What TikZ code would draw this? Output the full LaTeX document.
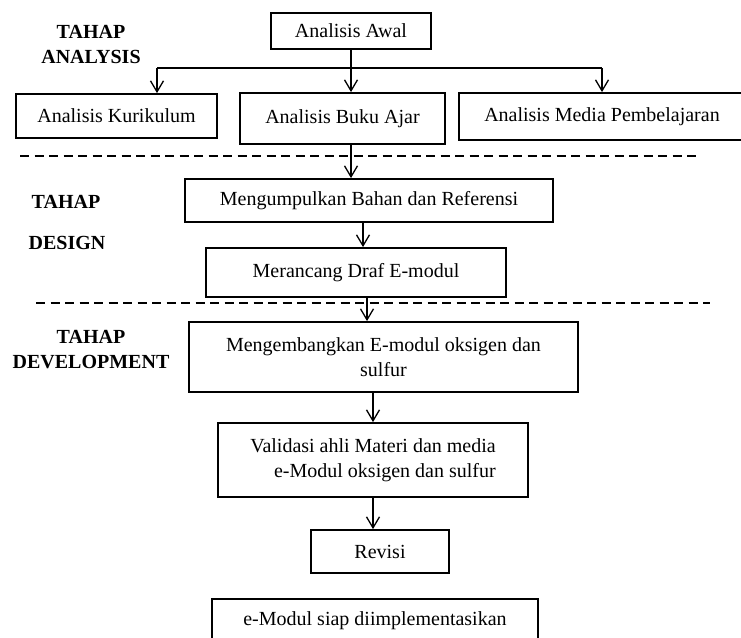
\documentclass[tikz,border=0pt]{standalone}
\usepackage{fontspec}
\setmainfont{Liberation Serif}
\usetikzlibrary{arrows.meta}
\tikzset{
  mybox/.style={
    draw, rectangle, line width=1.8pt, inner sep=0pt, font=\fontsize{20}{25}\selectfont
  },
  mylabel/.style={
    inner sep=0pt, align=center, font=\fontsize{20}{25}\selectfont\bfseries
  },
  myarrow/.style={
    -{Straight Barb[length=11pt,width=13pt]}, line width=1.3pt
  },
  mydash/.style={
    dash pattern=on 9pt off 5.5pt, line width=1.4pt
  }
}
\begin{document}
\begin{tikzpicture}[x=1pt, y=1pt]
 \useasboundingbox (0, 0) rectangle (741, -637);

 % tahap labels
 \node[mylabel] (lanalysis) at (91, -44) {TAHAP\\ANALYSIS};
 \node[mylabel] (ltahap) at (66, -202) {TAHAP};
 \node[mylabel] (ldesign) at (67, -243) {DESIGN};
 \node[mylabel] (ldevelop) at (91, -349.5) {TAHAP\\DEVELOPMENT};

 % boxes
 \node[mybox, minimum width=160pt, minimum height=36pt] (awal) at (351, -31) {Analisis Awal};
 \node[mybox, minimum width=201pt, minimum height=44pt] (kurikulum) at (116.5, -116) {Analisis Kurikulum};
 \node[mybox, minimum width=205pt, minimum height=51pt] (buku) at (342.5, -118.5) {Analisis Buku Ajar};
 \node[mybox, minimum width=286pt, minimum height=47pt] (media) at (602, -116.5) {Analisis Media Pembelajaran};
 \node[mybox, minimum width=368pt, minimum height=43pt] (kumpul) at (369, -200.5) {Mengumpulkan Bahan dan Referensi};
 \node[mybox, minimum width=300pt, minimum height=49pt] (rancang) at (356, -272.5) {Merancang Draf E-modul};
 \node[mybox, minimum width=389pt, minimum height=70pt, align=center] (kembang) at (383.5, -357) {Mengembangkan E-modul oksigen dan\\sulfur};
 \node[mybox, minimum width=310pt, minimum height=74pt, align=right] (validasi) at (373, -460) {Validasi ahli Materi dan media\\e-Modul oksigen dan sulfur};
 \node[mybox, minimum width=138pt, minimum height=43pt] (revisi) at (380, -551.5) {Revisi};
 \node[mybox, minimum width=326pt, minimum height=43pt] (siap) at (375, -620.5) {e-Modul siap diimplementasikan};

 \foreach \y/\a/\b in {-156/20/698, -303/36/710} {
   \draw[mydash] (\a, \y) -- (\b, \y);
  }

 \coordinate (hkiri) at (157, -68);
 \coordinate (hkanan) at (602, -68);
 \draw[line width=1.3pt] (hkiri) -- (hkanan);
 \draw[myarrow] (awal.south) -- (awal.south |- buku.north);
 \draw[myarrow] (hkiri) -- (hkiri |- kurikulum.north);
 \draw[myarrow] (hkanan) -- (hkanan |- media.north);
 \draw[myarrow] (awal.south |- buku.south) -- (awal.south |- kumpul.north);
 \draw[myarrow] ([xshift=-6pt]kumpul.south) -- ([xshift=-6pt]kumpul.south |- rancang.north);
 \draw[myarrow] ([xshift=11pt]rancang.south) -- ([xshift=11pt]rancang.south |- kembang.north);
 \draw[myarrow] (validasi.north |- kembang.south) -- (validasi.north);
 \draw[myarrow] (validasi.south) -- (validasi.south |- revisi.north);

\end{tikzpicture}
\end{document}
